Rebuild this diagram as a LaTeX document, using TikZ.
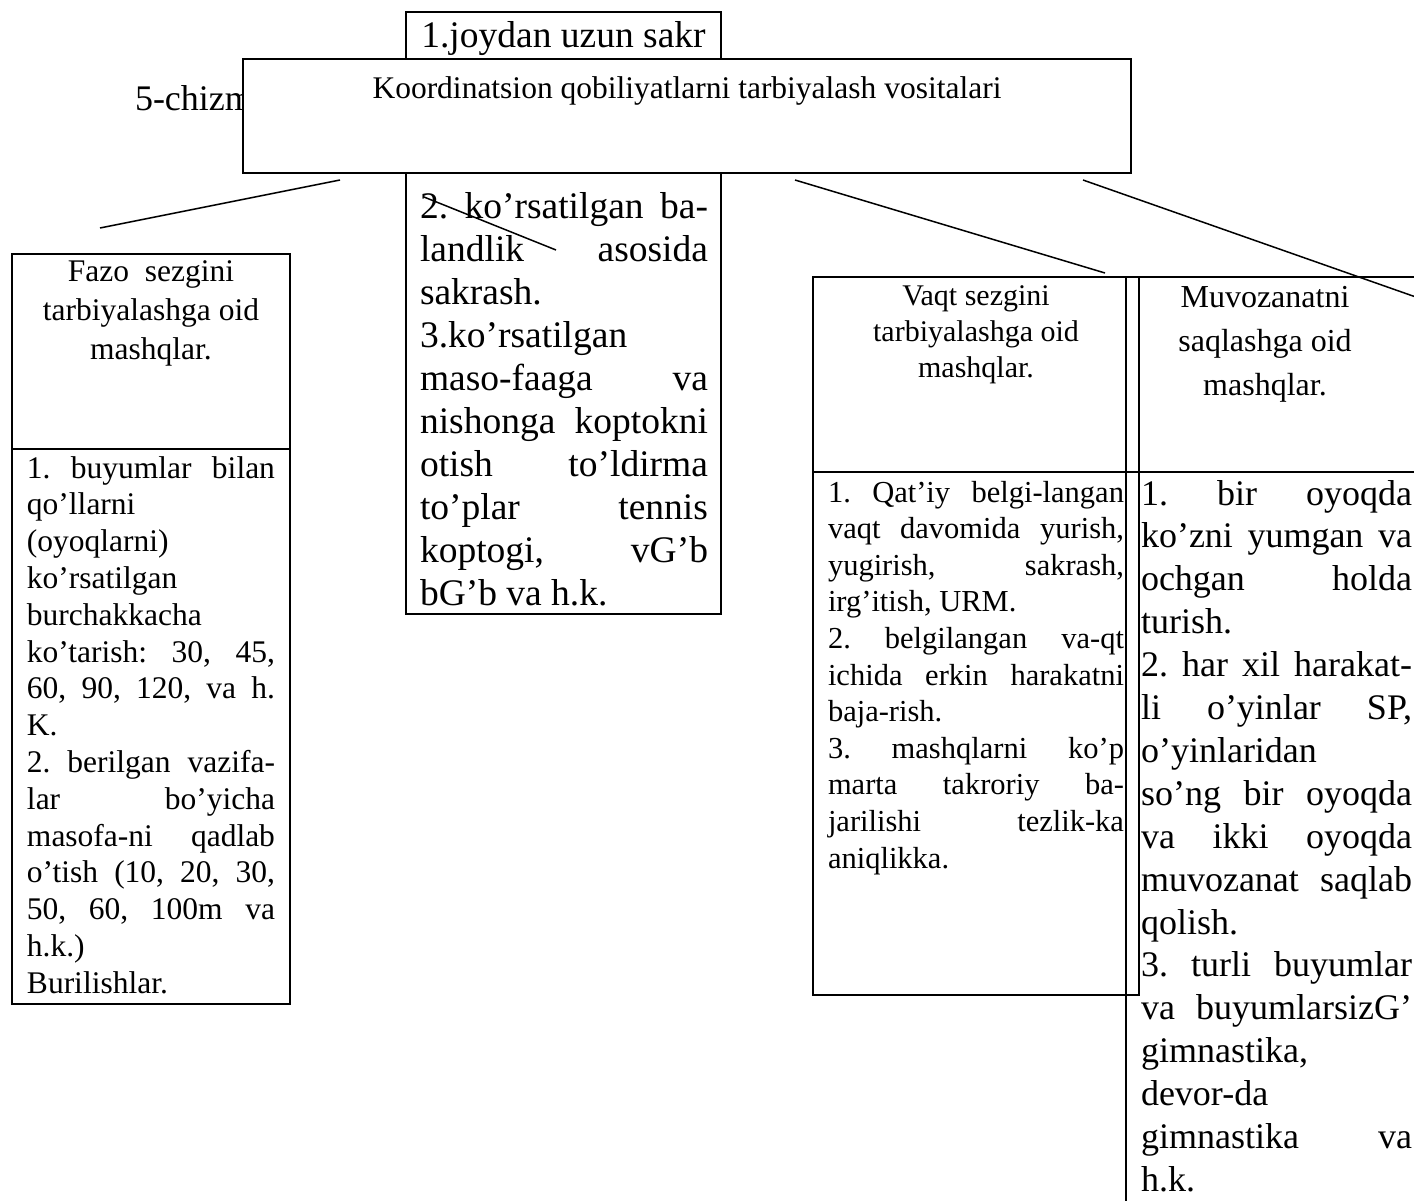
\documentclass[tikz,border=0pt]{standalone}
\usepackage{fontspec}
\setmainfont{Liberation Serif}
\newcommand\J[1]{\makebox[\jw][s]{#1}}
\def\jw{248pt}
\begin{document}
\frenchspacing
\begin{tikzpicture}[x=1pt,y=-1pt,
  boxy/.style={draw, line width=1.5pt, anchor=north west, inner sep=0pt, outer sep=0pt},
  txt/.style={anchor=base west, inner sep=0pt, outer sep=0pt},
  ctr/.style={anchor=base, inner sep=0pt, outer sep=0pt},
  conn/.style={line width=1.5pt}]
\useasboundingbox (0,0) rectangle (1414,1200);
\clip (0,0) rectangle (1414,1200);
\fill[white] (0,0) rectangle (1414,1200);

% figure label (partly hidden)
\node[txt, font=\fontsize{36}{40}\selectfont] (fig) at (135,110) {5-chizma};

% tall box behind the title
\node[boxy, fill=white, minimum width=315pt, minimum height=602pt] (tall) at (406,12) {};
\node[ctr, font=\fontsize{37.5}{43}\selectfont] (tallhead) at (563.5,47) {1.joydan uzun sakr};
\def\jw{288pt}
\foreach \s [count=\i from 0] in {
  \J{2. ko’rsatilgan ba-},
  \J{landlik asosida},
  sakrash.,
  3.ko’rsatilgan,
  \J{maso-faaga va},
  \J{nishonga koptokni},
  \J{otish to’ldirma},
  \J{to’plar tennis},
  \J{koptogi, vG’b},
  bG’b va h.k.}
  \node[txt, font=\fontsize{37.5}{43}\selectfont] (tall-\i) at (420,{218+43*\i}) {\s};

% main title box
\node[boxy, fill=white, minimum width=888pt, minimum height=114pt] (main) at (243,59) {};
\node[ctr, font=\fontsize{31.5}{36}\selectfont] (title) at (687,98) {Koordinatsion qobiliyatlarni tarbiyalash vositalari};

% connectors
\coordinate (a1) at (340,180); \coordinate (a2) at (100,228);
\coordinate (b1) at (795,180); \coordinate (b2) at (1105,273);
\coordinate (c1) at (1083,180); \coordinate (c2) at (1430,302);
\coordinate (d1) at (424,197); \coordinate (d2) at (556,250);
\draw[conn] (a1) -- (a2);
\draw[conn] (b1) -- (b2);
\draw[conn] (c1) -- (c2);
\draw[conn] (d1) -- (d2);

% Fazo
\node[boxy, minimum width=278pt, minimum height=195pt] (fazoH) at (12,254) {};
\node[boxy, minimum width=278pt, minimum height=555pt] (fazoB) at (12,449) {};
\foreach \s [count=\i from 0] in {Fazo~ sezgini, tarbiyalashga oid, mashqlar.}
  \node[ctr, font=\fontsize{31.5}{36}\selectfont] (fzh-\i) at (151,{281+39*\i}) {\s};
\def\jw{248pt}
\foreach \s [count=\i from 0] in {
  \J{1. buyumlar bilan},
  qo’llarni,
  (oyoqlarni),
  ko’rsatilgan,
  burchakkacha,
  \J{ko’tarish: 30, 45,},
  \J{60, 90, 120, va h.},
  K.,
  \J{2. berilgan vazifa-},
  \J{lar bo’yicha},
  \J{masofa-ni qadlab},
  \J{o’tish (10, 20, 30,},
  \J{50, 60, 100m va},
  h.k.),
  Burilishlar.}
  \node[txt, font=\fontsize{31.5}{36}\selectfont] (fzb-\i) at (27,{478+36.8*\i}) {\s};

% Muvozanat (drawn first, open to the right and bottom)
\node[boxy, minimum width=400pt, minimum height=195pt] (muvH) at (1126,277) {};
\node[boxy, minimum width=400pt, minimum height=800pt] (muvB) at (1126,472) {};
% Vaqt
\node[boxy, minimum width=326pt, minimum height=195pt] (vaqtH) at (813,277) {};
\node[boxy, minimum width=326pt, minimum height=523pt] (vaqtB) at (813,472) {};

\foreach \s [count=\i from 0] in {Vaqt sezgini, tarbiyalashga oid, mashqlar.}
  \node[ctr, font=\fontsize{30}{36}\selectfont] (vqh-\i) at (976,{305+36*\i}) {\s};
\def\jw{296pt}
\foreach \s [count=\i from 0] in {
  \J{1. Qat’iy belgi-langan},
  \J{vaqt davomida yurish,},
  \J{yugirish, sakrash,},
  {irg’itish, URM.},
  \J{2. belgilangan va-qt},
  \J{ichida erkin harakatni},
  baja-rish.,
  \J{3. mashqlarni ko’p},
  \J{marta takroriy ba-},
  \J{jarilishi tezlik-ka},
  aniqlikka.}
  \node[txt, font=\fontsize{30.5}{36}\selectfont] (vqb-\i) at (828,{502+36.6*\i}) {\s};

\foreach \s [count=\i from 0] in {Muvozanatni, saqlashga oid, mashqlar.}
  \node[ctr, font=\fontsize{32}{40}\selectfont] (mvh-\i) at (1265,{307+44*\i}) {\s};
\def\jw{271pt}
\foreach \s [count=\i from 0] in {
  \J{1. bir oyoqda},
  \J{ko’zni yumgan va},
  \J{ochgan holda},
  turish.,
  \J{2. har xil harakat-},
  \J{li o’yinlar SP,},
  o’yinlaridan,
  \J{so’ng bir oyoqda},
  \J{va ikki oyoqda},
  \J{muvozanat saqlab},
  qolish.,
  \J{3. turli buyumlar},
  \J{va buyumlarsizG’},
  {gimnastika,},
  devor-da,
  \J{gimnastika va},
  h.k.}
  \node[txt, font=\fontsize{36}{42}\selectfont] (mvb-\i) at (1141,{505+42.9*\i}) {\s};
\end{tikzpicture}
\end{document}
